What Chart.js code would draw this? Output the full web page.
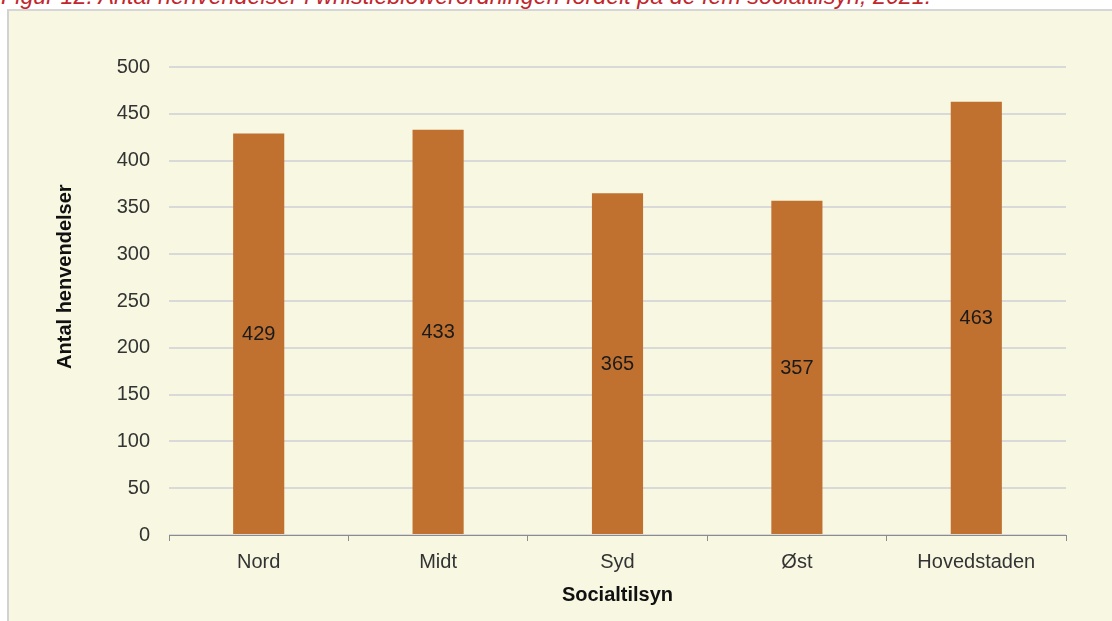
<!DOCTYPE html>
<html>
<head>
<meta charset="utf-8">
<script src="https://cdn.jsdelivr.net/npm/chart.js@4.4.1/dist/chart.umd.min.js"></script>
<style>
  html, body { margin: 0; padding: 0; background: #ffffff; width: 1112px; height: 621px; overflow: hidden; }
  #title { position: absolute; left: 1px; top: -15px; font-family: "Liberation Sans", Arial, sans-serif; font-style: italic; font-size: 23.3px; line-height: 23px; color: #c0272d; white-space: nowrap; }
  #box { position: absolute; left: 7px; top: 9px; right: 0; bottom: 0; background: #f8f7e1; border-left: 2px solid #d2d2d2; border-top: 2px solid #d6d6d6; }
  #wrap { position: absolute; left: 0; top: 0; width: 1112px; height: 621px; }
</style>
</head>
<body>
<div id="title">Figur 12: Antal henvendelser i whistleblowerordningen fordelt på de fem socialtilsyn, 2021.</div>
<div id="box"></div>
<div id="wrap"><canvas id="c" width="1112" height="621"></canvas></div>
<script>
const categories = ["Nord", "Midt", "Syd", "Øst", "Hovedstaden"];
const values = [429, 433, 365, 357, 463];
const yTicks = [0, 50, 100, 150, 200, 250, 300, 350, 400, 450, 500];
const yTitle = 'Antal henvendelser';
const xTitle = 'Socialtilsyn';

const FONT = '"Liberation Sans", Arial, sans-serif';

const valueLabels = {
  id: 'valueLabels',
  afterDatasetsDraw(chart) {
    const ctx = chart.ctx;
    const meta = chart.getDatasetMeta(0);
    ctx.save();
    ctx.font = '20px ' + FONT;
    ctx.fillStyle = '#1a1a1a';
    ctx.textAlign = 'center';
    ctx.textBaseline = 'middle';
    meta.data.forEach((bar, i) => {
      const y = (bar.y + bar.base) / 2 + 1;
      ctx.fillText(String(values[i]), bar.x, y);
    });
    ctx.restore();
  }
};

const yAxisTitle = {
  id: 'yAxisTitle',
  afterDraw(chart) {
    const ctx = chart.ctx;
    const area = chart.chartArea;
    const cy = area.top + (area.bottom - area.top) * 0.448;
    ctx.save();
    ctx.translate(65, cy);
    ctx.rotate(-Math.PI / 2);
    ctx.font = 'bold 20px ' + FONT;
    ctx.fillStyle = '#111111';
    ctx.textAlign = 'center';
    ctx.textBaseline = 'middle';
    ctx.fillText(yTitle, 0, 0);
    ctx.restore();
  }
};

new Chart(document.getElementById('c'), {
  type: 'bar',
  data: {
    labels: categories,
    datasets: [{
      data: values,
      backgroundColor: '#c0702f',
      borderWidth: 0,
      barPercentage: 0.285,
      categoryPercentage: 1.0
    }]
  },
  options: {
    responsive: false,
    animation: false,
    devicePixelRatio: 1,
    layout: { padding: { left: 50, right: 46, top: 67, bottom: 14 } },
    plugins: { legend: { display: false }, tooltip: { enabled: false } },
    scales: {
      x: {
        offset: true,
        grid: { offset: true, drawOnChartArea: false, drawTicks: true, tickLength: 6, color: '#8c8c8c', lineWidth: 1 },
        border: { display: true, color: '#8c8c8c', width: 1 },
        ticks: { color: '#333333', font: { family: FONT, size: 20 }, padding: 9, maxRotation: 0 },
        title: { display: true, text: xTitle, color: '#111111', font: { family: FONT, size: 20, weight: 'bold' }, padding: { top: 0, bottom: 0 } },
        afterFit(scale) { scale.height = 72; }
      },
      y: {
        min: 0,
        max: 500,
        afterBuildTicks(scale) { scale.ticks = yTicks.map(v => ({ value: v })); },
        grid: { drawTicks: false, color: '#d9d9d9', lineWidth: 2 },
        border: { display: false },
        ticks: { color: '#333333', font: { family: FONT, size: 20 }, padding: 19 },
        title: { display: false },
        afterFit(scale) { scale.width = 119; }
      }
    }
  },
  plugins: [valueLabels, yAxisTitle]
});
</script>
</body>
</html>
